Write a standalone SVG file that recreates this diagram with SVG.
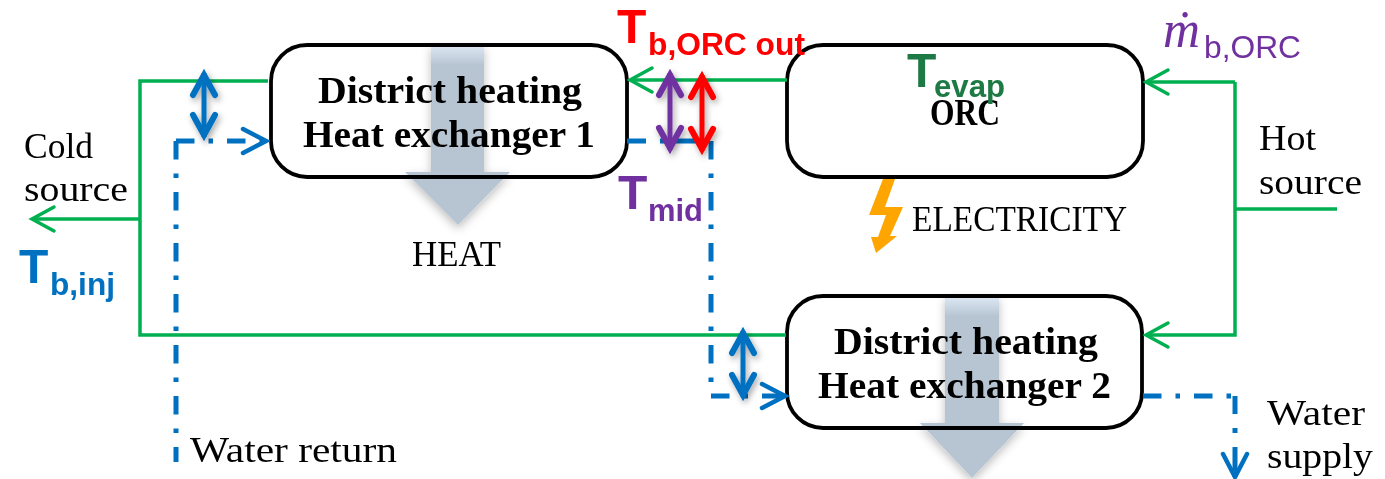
<svg xmlns="http://www.w3.org/2000/svg" width="1385" height="479" viewBox="0 0 1385 479">
<style>
.box{fill:#fff;stroke:#000;stroke-width:3.8}
.g{fill:none;stroke:#00b050;stroke-width:3.5}
.d{fill:none;stroke:#0070c0;stroke-width:5;stroke-dasharray:18.5 14 4.5 14}
.bl{fill:none;stroke:#0070c0;stroke-width:5}
.dbl{fill:none;stroke-width:5;filter:url(#sh)}
.ser{font-family:"Liberation Serif",serif;font-size:36px;fill:#000}
.b{font-weight:700;font-size:37px}
.sans{font-family:"Liberation Sans",Arial,sans-serif;font-weight:700}
.T{font-size:48px}
.s{font-size:32px}
.heat{mix-blend-mode:multiply}
</style>
<defs>
<linearGradient id="hg" x1="0" y1="0" x2="0" y2="1"><stop offset="0" stop-color="#dfe9f5"/><stop offset=".11" stop-color="#b7c5d3"/><stop offset="1" stop-color="#b7c5d3"/></linearGradient>
<filter id="sh" filterUnits="userSpaceOnUse" x="0" y="0" width="1385" height="479"><feDropShadow dx="2" dy="3" stdDeviation="3" flood-color="#000" flood-opacity=".35"/></filter>
<filter id="shb" x="-20%" y="-10%" width="140%" height="125%"><feDropShadow dx="0" dy="4" stdDeviation="5" flood-color="#000" flood-opacity=".25"/></filter>
<marker id="ga" markerUnits="userSpaceOnUse" markerWidth="30" markerHeight="32" viewBox="-26 -16 30 32" refX="0" refY="0" orient="auto"><path d="M-22-12 0 0-22 12" fill="none" stroke="#00b050" stroke-width="3.5" stroke-linecap="round"/></marker>
<marker id="ba" markerUnits="userSpaceOnUse" markerWidth="30" markerHeight="32" viewBox="-26 -16 30 32" refX="0" refY="0" orient="auto"><path d="M-23-12 0 0-23 12" fill="none" stroke="#0070c0" stroke-width="4.5" stroke-linecap="round"/></marker>
<marker id="db" markerUnits="userSpaceOnUse" markerWidth="34" markerHeight="34" viewBox="-26 -17 34 34" refX="2" refY="0" orient="auto-start-reverse"><path d="M-20-11 0 0-20 11" fill="none" stroke="#0070c0" stroke-width="6" stroke-linecap="round"/></marker>
<marker id="dp" markerUnits="userSpaceOnUse" markerWidth="34" markerHeight="34" viewBox="-26 -17 34 34" refX="2" refY="0" orient="auto-start-reverse"><path d="M-20-11 0 0-20 11" fill="none" stroke="#7030a0" stroke-width="6" stroke-linecap="round"/></marker>
<marker id="dr" markerUnits="userSpaceOnUse" markerWidth="34" markerHeight="34" viewBox="-26 -17 34 34" refX="2" refY="0" orient="auto-start-reverse"><path d="M-20-11 0 0-20 11" fill="none" stroke="#f00" stroke-width="6" stroke-linecap="round"/></marker>
</defs>
<rect width="1385" height="479" fill="#fff"/>
<g id="hx1"><rect class="box" x="271" y="45" width="356" height="132" rx="36"/>
<text class="ser b" x="318" y="103" textLength="264" lengthAdjust="spacingAndGlyphs">District heating</text>
<text class="ser b" x="303" y="147" textLength="292" lengthAdjust="spacingAndGlyphs">Heat exchanger 1</text></g>
<g id="orc"><rect class="box" x="787" y="45" width="356" height="132" rx="36"/>
<text class="ser b" x="930" y="125" textLength="70" lengthAdjust="spacingAndGlyphs">ORC</text></g>
<g id="hx2"><rect class="box" x="787" y="296" width="355" height="132" rx="36"/>
<text class="ser b" x="834" y="354" textLength="264" lengthAdjust="spacingAndGlyphs">District heating</text>
<text class="ser b" x="818" y="398" textLength="293" lengthAdjust="spacingAndGlyphs">Heat exchanger 2</text></g>
<g id="connectors">
<path class="g" d="M268 81H140V335H786"/>
<path class="g" d="M140 219H32" marker-end="url(#ga)"/>
<path class="g" d="M787 80H630" marker-end="url(#ga)"/>
<path class="g" d="M1235 209H1337"/>
<path class="g" d="M1235 82V335H1146" marker-end="url(#ga)"/>
<path class="g" d="M1235 82H1146" marker-end="url(#ga)"/>
<path class="d" d="M176 462V141" stroke-dashoffset="3.5"/>
<path class="d" d="M176 141H266" marker-end="url(#ba)"/>
<path class="bl" d="M627 141H646M660 141H710"/>
<path class="d" d="M711 141V396"/>
<path class="d" d="M711 396H785" marker-end="url(#ba)"/>
<path class="d" d="M1143 396H1235"/>
<path class="bl" d="M1235 396V414M1235 428V433M1235 447V477" stroke-width="4.5" marker-end="url(#ba)"/>
<path class="dbl" stroke="#0070c0" d="M204 73V137" marker-start="url(#db)" marker-end="url(#db)"/>
<path class="dbl" stroke="#7030a0" d="M670 73V150" marker-start="url(#dp)" marker-end="url(#dp)"/>
<path class="dbl" stroke="#f00" d="M702 75V151" marker-start="url(#dr)" marker-end="url(#dr)"/>
<path class="dbl" stroke="#0070c0" d="M743 331V397" marker-start="url(#db)" marker-end="url(#db)"/>
</g>
<g id="heat-arrow-1"><path class="heat" filter="url(#shb)" fill="url(#hg)" d="M431 45H484V172H510L458 225 405 172H431Z"/></g>
<g id="heat-arrow-2"><path class="heat" filter="url(#shb)" fill="url(#hg)" d="M945 296H999V423H1024L972 478 920 423H945Z"/></g>
<g id="lightning"><path fill="#ffa500" d="M883 179H895L885 207H903L890 236H897L876 253 871 237H878L886 215H869Z"/></g>
<g id="labels">
<text class="ser" x="412" y="266" textLength="89" lengthAdjust="spacingAndGlyphs">HEAT</text>
<text class="ser" x="912" y="231" textLength="215" lengthAdjust="spacingAndGlyphs">ELECTRICITY</text>
<text class="ser" x="24" y="158" textLength="69" lengthAdjust="spacingAndGlyphs">Cold</text>
<text class="ser" x="24" y="201" textLength="104" lengthAdjust="spacingAndGlyphs">source</text>
<text class="ser" x="1259" y="150" textLength="57" lengthAdjust="spacingAndGlyphs">Hot</text>
<text class="ser" x="1259" y="194" textLength="103" lengthAdjust="spacingAndGlyphs">source</text>
<text class="ser" x="190" y="462" textLength="207" lengthAdjust="spacingAndGlyphs">Water return</text>
<text class="ser" x="1267" y="425" textLength="98" lengthAdjust="spacingAndGlyphs">Water</text>
<text class="ser" x="1267" y="468" textLength="106" lengthAdjust="spacingAndGlyphs">supply</text>
<text class="sans T" x="617" y="43" fill="#f00">T</text>
<text class="sans s" x="648" y="55" fill="#f00" textLength="157" lengthAdjust="spacingAndGlyphs">b,ORC out</text>
<text class="sans T" x="618" y="209" fill="#7030a0">T</text>
<text class="sans s" x="648" y="221" fill="#7030a0" textLength="55" lengthAdjust="spacingAndGlyphs">mid</text>
<text class="sans T" x="907" y="87" fill="#1e7a45">T</text>
<text class="sans s" x="934" y="97" fill="#1e7a45" textLength="71" lengthAdjust="spacingAndGlyphs">evap</text>
<text class="sans T" x="19" y="283" fill="#0070c0">T</text>
<text class="sans s" x="50" y="295" fill="#0070c0" textLength="65" lengthAdjust="spacingAndGlyphs">b,inj</text>
<text x="1163" y="47" font-family="Liberation Serif,serif" font-style="italic" font-size="52" fill="#7030a0" textLength="37" lengthAdjust="spacingAndGlyphs">ṁ</text>
<text x="1204" y="58" font-family="Liberation Sans,Arial,sans-serif" font-size="32" fill="#7030a0" textLength="97" lengthAdjust="spacingAndGlyphs">b,ORC</text>
</g>
</svg>
